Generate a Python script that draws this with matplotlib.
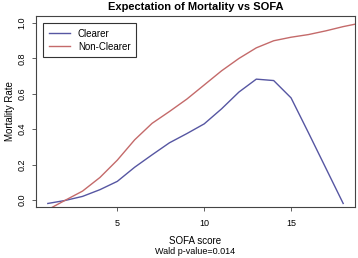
import matplotlib
matplotlib.use("Agg")
import matplotlib.pyplot as plt
from matplotlib.lines import Line2D

plt.rcParams['font.family'] = ['Liberation Sans', 'DejaVu Sans']

# SOFA score vs expected mortality
sofa = [1, 2, 3, 4, 5, 6, 7, 8, 9, 10, 11, 12, 13, 14, 15, 16, 17, 18]
clearer = [-0.02, -0.003, 0.02, 0.058, 0.105, 0.185, 0.255, 0.323, 0.375,
           0.43, 0.515, 0.61, 0.683, 0.675, 0.577, 0.38, 0.18, -0.02]
sofa_nc = [1, 2, 3, 4, 5, 6, 7, 8, 9, 10, 11, 12, 13, 14, 15, 16, 17, 18, 19]
non_clearer = [-0.055, -0.002, 0.05, 0.127, 0.225, 0.34, 0.433, 0.50, 0.57,
               0.65, 0.73, 0.80, 0.86, 0.90, 0.92, 0.935, 0.956, 0.98, 1.0]

blue = "#5656a2"
red = "#c46a6a"

fig = plt.figure(figsize=(3.58, 2.58), dpi=100)
ax = fig.add_axes([36 / 358, 1 - 207 / 258, 319 / 358, 191 / 258])

ax.plot(sofa, clearer, color=blue, lw=1.0)
ax.plot(sofa_nc, non_clearer, color=red, lw=1.0)

ax.set_xlim(0.32, 18.68)
ax.set_ylim(-0.04, 1.04)
ax.set_xticks([5, 10, 15])
ax.set_yticks([0.0, 0.2, 0.4, 0.6, 0.8, 1.0])
ax.set_yticklabels(["0.0", "0.2", "0.4", "0.6", "0.8", "1.0"], rotation=90, va='center')
ax.tick_params(labelsize=6.5, length=3, width=0.6, color="#444444")
ax.tick_params(axis='x', pad=6)
ax.tick_params(axis='y', pad=4)
for s in ax.spines.values():
    s.set_linewidth(0.8)
    s.set_color("#444444")

ax.set_title("Expectation of Mortality vs SOFA", fontsize=8, fontweight='bold', pad=4)
ax.set_ylabel("Mortality Rate", fontsize=7, labelpad=1.5)
fig.text(0.5 * (36 + 355) / 358, 1 - 241 / 258, "SOFA score", fontsize=7, ha='center', va='center')
fig.text(0.5 * (36 + 355) / 358, 1 - 252 / 258, "Wald p-value=0.014", fontsize=6.5, ha='center', va='center')

handles = [Line2D([], [], color=blue, lw=1.0), Line2D([], [], color=red, lw=1.0)]
leg = ax.legend(handles, ["Clearer", "Non-Clearer"], loc='upper left', fontsize=7,
                fancybox=False, framealpha=1, edgecolor="#333333",
                borderaxespad=0.7, handlelength=2.2, labelspacing=0.3,
                borderpad=0.6, handletextpad=0.8)
leg.get_frame().set_linewidth(0.8)

fig.savefig("out.png", dpi=100)
